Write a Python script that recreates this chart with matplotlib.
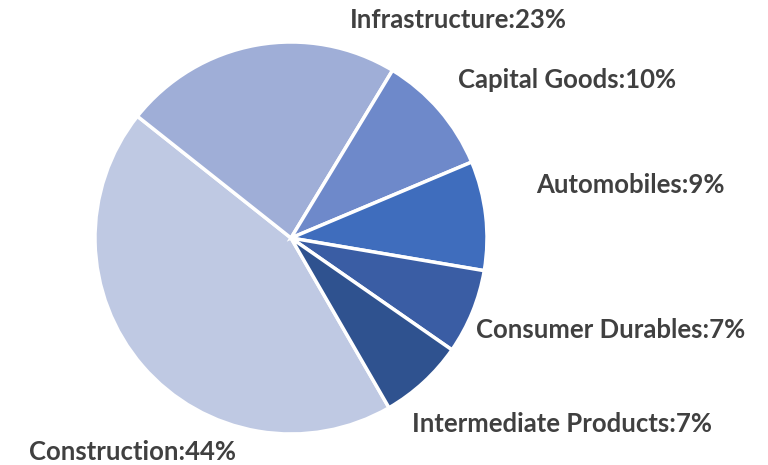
import matplotlib.pyplot as plt

# data
sectors = ['Construction', 'Infrastructure', 'Capital Goods', 'Automobiles',
           'Consumer Durables', 'Intermediate Products']
shares = [44, 23, 10, 9, 7, 7]
colors = ['#BFC9E3', '#9FAED7', '#6E89CA', '#3F6DBD', '#3A5DA4', '#2F528F']

# label anchor points (pie radius = 1)
label_pos = [(-0.811, -1.092), (0.852, 1.112), (1.408, 0.806),
             (1.730, 0.270), (1.633, -0.469), (1.383, -0.949)]

plt.rcParams['font.family'] = ['Lato', 'DejaVu Sans']

fig = plt.figure(figsize=(7.68, 4.65), dpi=100)
ax = fig.add_axes([0, 0, 1, 1])

ax.pie(shares, colors=colors, startangle=-60, counterclock=False,
       radius=1, wedgeprops=dict(edgecolor='white', linewidth=2.5))

for name, val, (x, y) in zip(sectors, shares, label_pos):
    ax.text(x, y, f'{name}:{val}%', ha='center', va='center',
            fontsize=18.5, fontweight='bold', color='#404040')

ax.set_xlim(-291 / 196, 477 / 196)
ax.set_ylim(-227 / 196, 238 / 196)
ax.set_aspect('auto')
ax.axis('off')

fig.savefig('out.png', dpi=100)
